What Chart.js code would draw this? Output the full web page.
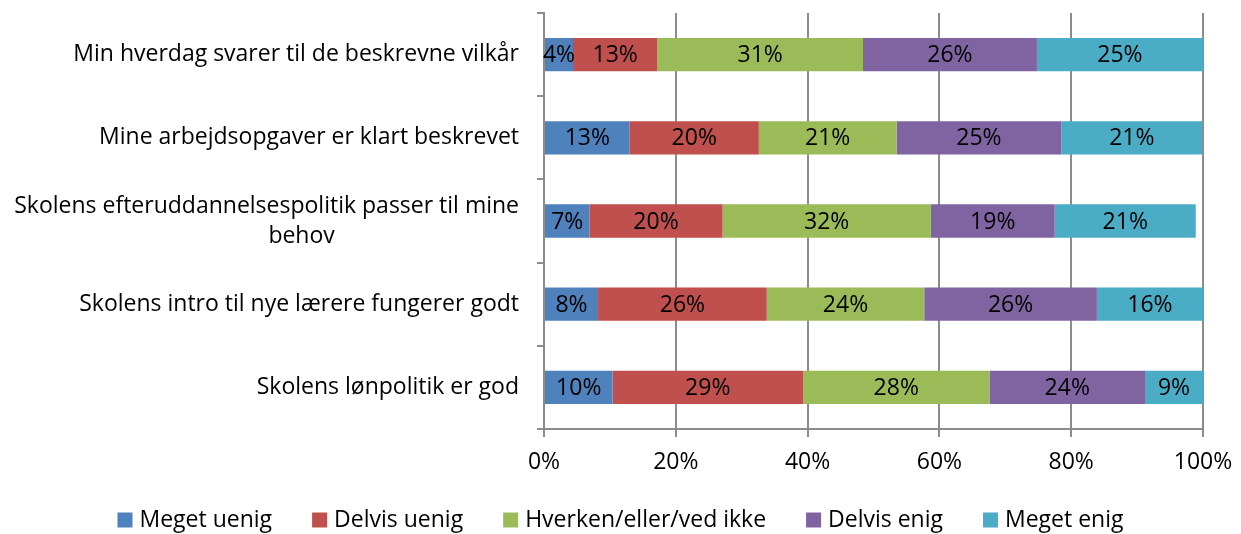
<!DOCTYPE html>
<html>
<head>
<meta charset="utf-8">
<script src="https://cdn.jsdelivr.net/npm/chart.js@4/dist/chart.umd.min.js"></script>
<style>
  html, body { margin: 0; padding: 0; background: #fff; }
  #wrap { width: 1241px; height: 534px; }
</style>
</head>
<body>
<div id="wrap"><canvas id="chart" width="1241" height="534"></canvas></div>
<script>
const FONT = "'Open Sans', 'Noto Sans', sans-serif";
const GRID_COLOR = '#8c8c8c';

// kategorier (oppefra og ned)
const categories = [
  ['Min hverdag svarer til de beskrevne vilkår'],
  ['Mine arbejdsopgaver er klart beskrevet'],
  ['Skolens efteruddannelsespolitik passer til mine', 'behov'],
  ['Skolens intro til nye lærere fungerer godt'],
  ['Skolens lønpolitik er god']
];

const seriesNames = ['Meget uenig', 'Delvis uenig', 'Hverken/eller/ved ikke', 'Delvis enig', 'Meget enig'];
const seriesColors = ['#4F81BD', '#C0504D', '#9BBB59', '#8064A2', '#4BACC6'];

// procent
const megetUenig  = [4.4, 13.0, 6.9, 8.2, 10.4];
const delvisUenig = [12.8, 19.6, 20.2, 25.6, 28.9];
const hverken     = [31.2, 20.9, 31.6, 23.9, 28.3];
const delvisEnig  = [26.4, 25.0, 18.8, 26.2, 23.6];
const megetEnig   = [25.2, 21.4, 21.4, 16.1, 8.8];

const xTicks = [0, 20, 40, 60, 80, 100];

const seriesValues = [megetUenig, delvisUenig, hverken, delvisEnig, megetEnig];

// tegner kategori-tekster til venstre for aksen
const categoryLabelPlugin = {
  id: 'categoryLabels',
  afterDraw(chart) {
    const ctx = chart.ctx;
    const yScale = chart.scales.y;
    const rightX = yScale.right - 25;
    const lineH = 30;
    ctx.save();
    ctx.font = '23px ' + FONT;
    ctx.fillStyle = '#000';
    ctx.textBaseline = 'middle';
    categories.forEach((lines, i) => {
      const cy = yScale.getPixelForValue(i);
      const startY = cy - (lines.length - 1) * lineH / 2;
      const firstW = ctx.measureText(lines[0]).width;
      lines.forEach((line, j) => {
        if (j === 0) {
          ctx.textAlign = 'right';
          ctx.fillText(line, rightX, startY);
        } else {
          // excel centrerer linje 2 lidt skævt
          ctx.textAlign = 'center';
          ctx.fillText(line, rightX - firstW / 2 + 35, startY + j * lineH);
        }
      });
    });
    ctx.restore();
  }
};

// procent-tekster midt i hvert segment
const valueLabelPlugin = {
  id: 'valueLabels',
  afterDatasetsDraw(chart) {
    const ctx = chart.ctx;
    ctx.save();
    ctx.font = '23px ' + FONT;
    ctx.fillStyle = '#000';
    ctx.textAlign = 'center';
    ctx.textBaseline = 'middle';
    chart.data.datasets.forEach((ds, di) => {
      const meta = chart.getDatasetMeta(di);
      meta.data.forEach((bar, i) => {
        const cx = (bar.x + bar.base) / 2;
        ctx.fillText(Math.round(ds.data[i]) + '%', cx, bar.y + 1);
      });
    });
    ctx.restore();
  }
};

// egen legende i bunden, så afstande kan styres
const legendPlugin = {
  id: 'bottomLegend',
  afterDraw(chart) {
    const ctx = chart.ctx;
    const box = 15, gap = 7, itemGap = 40, cy = 520;
    ctx.save();
    ctx.font = '23px ' + FONT;
    ctx.textBaseline = 'middle';
    ctx.textAlign = 'left';
    const widths = seriesNames.map(n => box + gap + ctx.measureText(n).width);
    const total = widths.reduce((a, b) => a + b, 0) + itemGap * (widths.length - 1);
    let x = chart.width / 2 - total / 2;
    seriesNames.forEach((name, i) => {
      ctx.fillStyle = seriesColors[i];
      ctx.fillRect(x, cy - box / 2, box, box);
      ctx.fillStyle = '#000';
      ctx.fillText(name, x + box + gap, cy);
      x += widths[i] + itemGap;
    });
    ctx.restore();
  }
};

new Chart(document.getElementById('chart').getContext('2d'), {
  type: 'bar',
  data: {
    labels: categories.map(c => c.join(' ')),
    datasets: seriesNames.map((name, i) => ({
      label: name,
      data: seriesValues[i],
      backgroundColor: seriesColors[i],
      barPercentage: 0.4,
      categoryPercentage: 1.0
    }))
  },
  options: {
    indexAxis: 'y',
    responsive: false,
    animation: false,
    layout: { padding: { top: 13, right: 38, left: 0, bottom: 50 } },
    plugins: {
      legend: { display: false },
      tooltip: { enabled: false }
    },
    scales: {
      x: {
        stacked: true,
        min: 0,
        max: 100,
        afterBuildTicks(scale) {
          scale.ticks = xTicks.map(v => ({ value: v }));
        },
        afterFit(scale) {
          scale.height = 55;
          scale.paddingLeft = 0;
          scale.paddingRight = 0;
        },
        ticks: {
          callback: v => v + '%',
          font: { family: FONT, size: 23 },
          color: '#000',
          padding: 12,
          maxRotation: 0
        },
        grid: { color: GRID_COLOR, lineWidth: 2, tickLength: 8 },
        border: { display: true, color: GRID_COLOR, width: 2 }
      },
      y: {
        stacked: true,
        afterFit(scale) { scale.width = 544; },
        ticks: { display: false },
        grid: { color: GRID_COLOR, lineWidth: 2, tickLength: 7, drawOnChartArea: false, offset: true },
        border: { display: true, color: GRID_COLOR, width: 2 }
      }
    }
  },
  plugins: [categoryLabelPlugin, valueLabelPlugin, legendPlugin]
});
</script>
</body>
</html>
